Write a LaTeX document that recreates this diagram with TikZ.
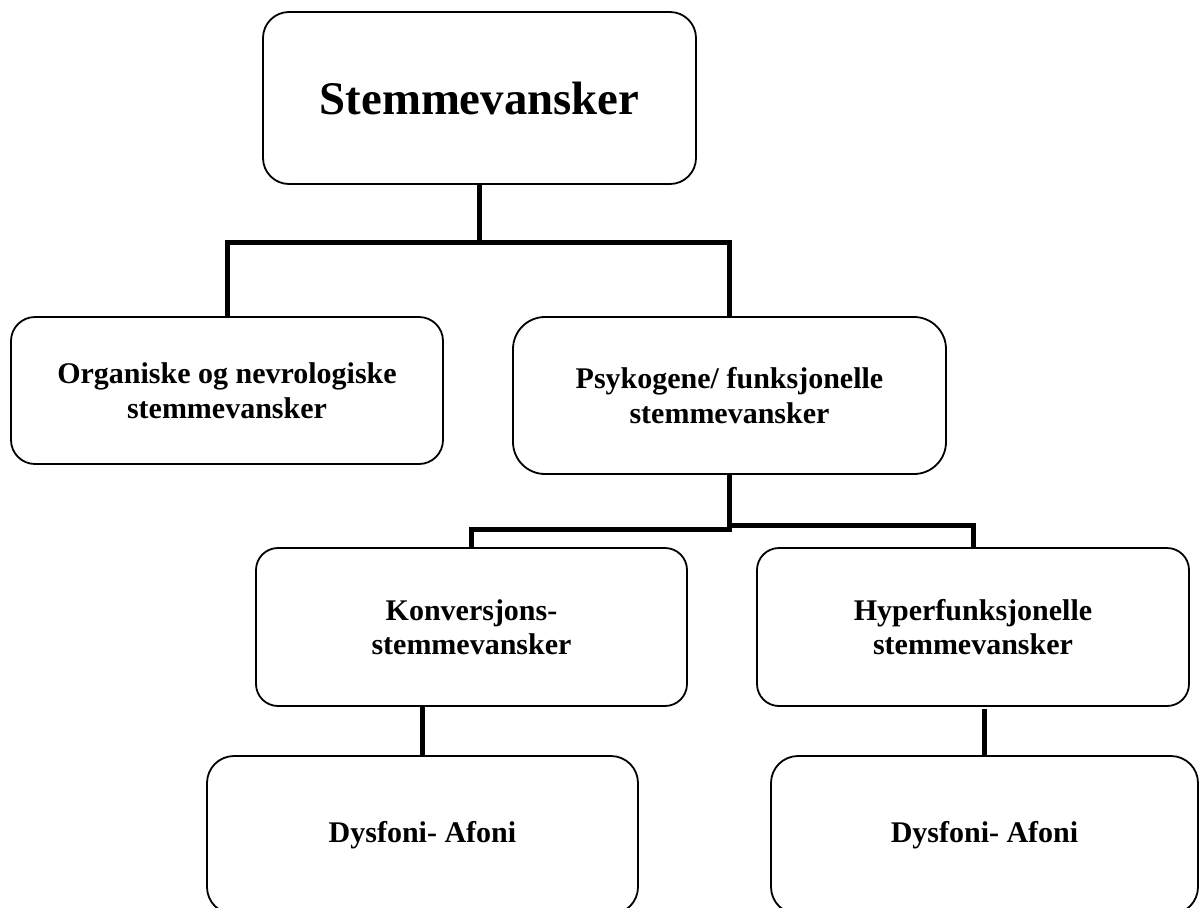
\documentclass[tikz,border=0pt]{standalone}
\usepackage{fontspec}
\setmainfont{Liberation Serif}
\tikzset{
  box/.style={draw=black, line width=1.8pt, rectangle, inner sep=0pt, align=center,
    font=\fontsize{30}{34.5}\selectfont\bfseries},
  conn/.style={draw=black, line width=5pt, line join=miter},
}
\begin{document}
\begin{tikzpicture}[x=1pt, y=-1pt]
\useasboundingbox (0,0) rectangle (1200,908);
\fill[white] (0,0) rectangle (1200,908);
\clip (0,0) rectangle (1200,908);

\node[box, rounded corners=26pt, minimum width=433pt, minimum height=172pt,
      font=\fontsize{46.8}{52}\selectfont\bfseries] (top) at (479.5,98) {Stemmevansker};
\node[box, rounded corners=24pt, minimum width=432pt, minimum height=147pt] (org) at (227,390.5)
  {Organiske og nevrologiske\\stemmevansker};
\node[box, rounded corners=32pt, minimum width=433pt, minimum height=157pt] (psy) at (729.5,395.5)
  {Psykogene/ funksjonelle\\stemmevansker};
\node[box, rounded corners=22pt, minimum width=431pt, minimum height=158pt] (konv) at (471.5,627)
  {Konversjons-\\stemmevansker};
\node[box, rounded corners=22pt, minimum width=432pt, minimum height=158pt] (hyp) at (973,627)
  {Hyperfunksjonelle\\stemmevansker};
\node[box, rounded corners=27pt, minimum width=431pt, minimum height=158pt] (dysa) at (422.5,835)
  {Dysfoni- Afoni};
\node[box, rounded corners=27pt, minimum width=427pt, minimum height=158pt] (dysb) at (984.5,835)
  {Dysfoni- Afoni};

\coordinate (j1) at (479.5,242);
\coordinate (j2) at (729.5,529);
\coordinate (j3) at (732,525);

\draw[conn] (top.south) -- (j1);
\draw[conn] (org.north) |- (j1) -| (psy.north);
\draw[conn] (psy.south) -- (j2) -| (konv.north);
\draw[conn] (j3) -| (hyp.north);
\draw[conn] (dysa.north) -- (dysa.north |- konv.south);
\draw[conn] (dysb.north) -- ([yshift=-2pt]dysb.north |- hyp.south);
\end{tikzpicture}
\end{document}
